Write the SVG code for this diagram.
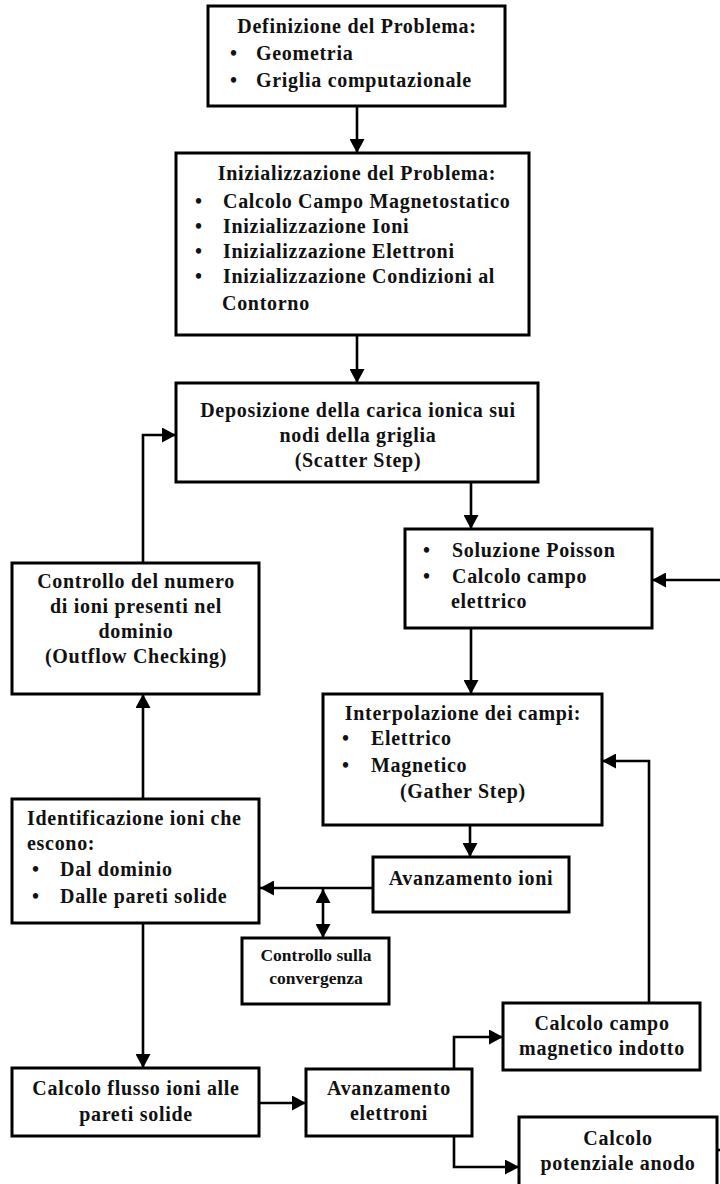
<svg xmlns="http://www.w3.org/2000/svg" width="720" height="1184" viewBox="0 0 720 1184">
<style>
.box{fill:#fff;stroke:#000;stroke-width:3}
.t{font-family:"Liberation Serif","Times New Roman",serif;font-weight:bold;font-size:20px;letter-spacing:0.7px;fill:#111}
.c{text-anchor:middle}
.s{font-size:17.5px;letter-spacing:0}
.ln{fill:none;stroke:#000;stroke-width:2.6}
</style>
<defs>
<marker id="ah" markerUnits="userSpaceOnUse" markerWidth="15" markerHeight="15" refX="14" refY="7.5" orient="auto-start-reverse">
<path d="M0,0 L14,7.5 L0,15 z" fill="#000"/>
</marker>
</defs>
<rect width="720" height="1184" fill="#fff"/>

<g id="connectors">
<path class="ln" d="M357,106 V153" marker-end="url(#ah)"/>
<path class="ln" d="M357,335 V383" marker-end="url(#ah)"/>
<path class="ln" d="M471,482 V529" marker-end="url(#ah)"/>
<path class="ln" d="M720,580 H652" marker-end="url(#ah)"/>
<path class="ln" d="M471,628 V694" marker-end="url(#ah)"/>
<path class="ln" d="M470,825 V857" marker-end="url(#ah)"/>
<path class="ln" d="M373,888 H260" marker-end="url(#ah)"/>
<path class="ln" d="M323,889 V938" marker-start="url(#ah)" marker-end="url(#ah)"/>
<path class="ln" d="M143,799 V694" marker-end="url(#ah)"/>
<path class="ln" d="M143,563 V435 H176" marker-end="url(#ah)"/>
<path class="ln" d="M143,923 V1068" marker-end="url(#ah)"/>
<path class="ln" d="M259,1103 H306" marker-end="url(#ah)"/>
<path class="ln" d="M454,1069 V1037 H503" marker-end="url(#ah)"/>
<path class="ln" d="M454,1136 V1167 H519" marker-end="url(#ah)"/>
<path class="ln" d="M649,1003 V761 H602" marker-end="url(#ah)"/>
<path class="ln" d="M717,1150 H722"/>
</g>

<g id="definizione">
<rect class="box" x="208" y="6" width="297" height="100"/>
<text class="t c" x="357" y="33">Definizione del Problema:</text>
<text class="t" x="230" y="60">•</text><text class="t" x="256" y="60">Geometria</text>
<text class="t" x="230" y="87">•</text><text class="t" x="256" y="87">Griglia computazionale</text>
</g>

<g id="inizializzazione">
<rect class="box" x="176" y="153" width="353" height="182"/>
<text class="t c" x="357" y="180">Inizializzazione del Problema:</text>
<text class="t" x="195" y="208">•</text><text class="t" x="223" y="208">Calcolo Campo Magnetostatico</text>
<text class="t" x="195" y="233">•</text><text class="t" x="223" y="233">Inizializzazione Ioni</text>
<text class="t" x="195" y="258">•</text><text class="t" x="223" y="258">Inizializzazione Elettroni</text>
<text class="t" x="195" y="283">•</text><text class="t" x="223" y="283">Inizializzazione Condizioni al</text>
<text class="t" x="222" y="310">Contorno</text>
</g>

<g id="deposizione">
<rect class="box" x="176" y="383" width="362" height="99"/>
<text class="t c" x="358" y="417">Deposizione della carica ionica sui</text>
<text class="t c" x="358" y="442">nodi della griglia</text>
<text class="t c" x="358" y="467">(Scatter Step)</text>
</g>

<g id="poisson">
<rect class="box" x="405" y="529" width="247" height="99"/>
<text class="t" x="423" y="557">•</text><text class="t" x="452" y="557">Soluzione Poisson</text>
<text class="t" x="423" y="583">•</text><text class="t" x="452" y="583">Calcolo campo</text>
<text class="t" x="451" y="608">elettrico</text>
</g>

<g id="outflow">
<rect class="box" x="12" y="563" width="247" height="131"/>
<text class="t c" x="136" y="588">Controllo del numero</text>
<text class="t c" x="136" y="613">di ioni presenti nel</text>
<text class="t c" x="136" y="638">dominio</text>
<text class="t c" x="136" y="663">(Outflow Checking)</text>
</g>

<g id="interpolazione">
<rect class="box" x="323" y="694" width="279" height="131"/>
<text class="t c" x="463" y="720">Interpolazione dei campi:</text>
<text class="t" x="342" y="745">•</text><text class="t" x="371" y="745">Elettrico</text>
<text class="t" x="342" y="772">•</text><text class="t" x="371" y="772">Magnetico</text>
<text class="t" x="400" y="798">(Gather Step)</text>
</g>

<g id="identificazione">
<rect class="box" x="12" y="799" width="247" height="124"/>
<text class="t" x="27" y="825">Identificazione ioni che</text>
<text class="t" x="27" y="850">escono:</text>
<text class="t" x="32" y="876">•</text><text class="t" x="60" y="876">Dal dominio</text>
<text class="t" x="32" y="903">•</text><text class="t" x="60" y="903">Dalle pareti solide</text>
</g>

<g id="avanzamento-ioni">
<rect class="box" x="373" y="857" width="196" height="55"/>
<text class="t c" x="471" y="885">Avanzamento ioni</text>
</g>

<g id="convergenza">
<rect class="box" x="242" y="938" width="147" height="66"/>
<text class="t s c" x="316" y="961">Controllo sulla</text>
<text class="t s c" x="316" y="984">convergenza</text>
</g>

<g id="campo-indotto">
<rect class="box" x="503" y="1003" width="197" height="67"/>
<text class="t c" x="602" y="1030">Calcolo campo</text>
<text class="t c" x="602" y="1055">magnetico indotto</text>
</g>

<g id="flusso">
<rect class="box" x="12" y="1068" width="247" height="68"/>
<text class="t c" x="136" y="1095">Calcolo flusso ioni alle</text>
<text class="t c" x="136" y="1121">pareti solide</text>
</g>

<g id="avanzamento-elettroni">
<rect class="box" x="306" y="1069" width="166" height="67"/>
<text class="t c" x="389" y="1095">Avanzamento</text>
<text class="t c" x="389" y="1120">elettroni</text>
</g>

<g id="potenziale">
<rect class="box" x="519" y="1117" width="198" height="80"/>
<text class="t c" x="618" y="1145">Calcolo</text>
<text class="t c" x="618" y="1170">potenziale anodo</text>
</g>
</svg>
